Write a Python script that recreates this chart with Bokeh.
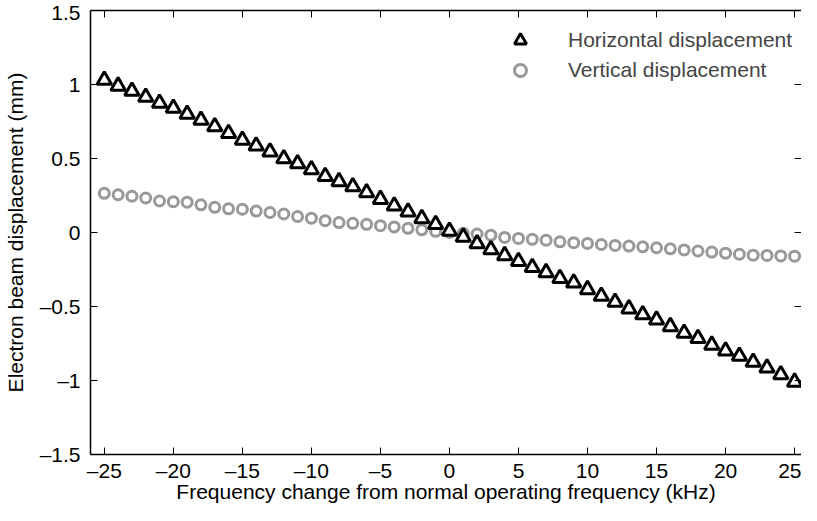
from bokeh.plotting import figure
from bokeh.models import Range1d, LinearAxis, FixedTicker, Legend, LegendItem, Title
from bokeh.embed import file_html
from bokeh.resources import INLINE

# ---- data ----
freq_khz = list(range(-25, 26))
horizontal_mm = [
    1.03, 0.99, 0.955, 0.915, 0.875, 0.84, 0.80, 0.76, 0.715, 0.67,
    0.625, 0.585, 0.545, 0.50, 0.465, 0.425, 0.38, 0.345, 0.31, 0.27,
    0.225, 0.18, 0.14, 0.095, 0.055, 0.01, -0.03, -0.075, -0.115, -0.155,
    -0.195, -0.235, -0.27, -0.31, -0.34, -0.385, -0.43, -0.47, -0.515, -0.555,
    -0.59, -0.635, -0.68, -0.715, -0.76, -0.80, -0.835, -0.875, -0.915, -0.96,
    -1.01,
]
vertical_mm = [
    0.265, 0.255, 0.245, 0.233, 0.213, 0.208, 0.205, 0.187, 0.170, 0.160,
    0.157, 0.145, 0.135, 0.125, 0.108, 0.097, 0.080, 0.067, 0.062, 0.055,
    0.046, 0.038, 0.028, 0.018, 0.008, 0.0, -0.005, -0.010, -0.018, -0.033,
    -0.040, -0.046, -0.052, -0.063, -0.069, -0.074, -0.081, -0.087, -0.092, -0.097,
    -0.103, -0.110, -0.118, -0.125, -0.132, -0.140, -0.147, -0.153, -0.155, -0.158,
    -0.160,
]
x_ticks = [-25, -20, -15, -10, -5, 0, 5, 10, 15, 20, 25]
y_ticks = [-1.5, -1, -0.5, 0, 0.5, 1, 1.5]
series_labels = ["Horizontal displacement", "Vertical displacement"]
x_title = "Frequency change from normal operating frequency (kHz)"
y_title = "Electron beam displacement (mm)"

FONT = "Liberation Sans"
FS = "21px"


def fmt(t):
    return f"{t:g}".replace("-", "\u2013")


p = figure(width=801, height=505, output_backend="svg", toolbar_location=None,
           x_range=Range1d(-26, 25.5), y_range=Range1d(-1.5, 1.5),
           x_axis_location=None, y_axis_location=None,
           min_border_left=86, min_border_right=0, min_border_top=10,
           min_border_bottom=51)
p.outline_line_color = None
p.xgrid.visible = False
p.ygrid.visible = False
p.background_fill_color = "white"
p.border_fill_color = "white"


def style_axis(ax, labels=True):
    ax.axis_line_color = "black"
    ax.axis_line_width = 1.5
    ax.major_tick_line_color = "black"
    ax.major_tick_line_width = 1
    ax.major_tick_in = 7
    ax.major_tick_out = 0
    ax.minor_tick_line_color = None
    ax.major_label_text_font = FONT
    if labels:
        ax.major_label_text_font_size = FS
        ax.major_label_text_color = "black"
    else:
        ax.major_label_text_font_size = "1px"
        ax.major_label_text_color = None
        ax.major_label_standoff = 0
    ax.axis_label_text_font = FONT
    ax.axis_label_text_font_size = FS
    ax.axis_label_text_font_style = "normal"
    ax.axis_label_text_color = "black"


xb = LinearAxis(ticker=FixedTicker(ticks=x_ticks),
                major_label_overrides={t: fmt(t) for t in x_ticks})
style_axis(xb)
xb.major_label_standoff = 4
p.add_layout(xb, "below")

# x-axis title, tucked close under the tick labels
p.add_layout(Title(text=x_title, align="center", vertical_align="top", standoff=-10,
                   text_font=FONT, text_font_size=FS, text_font_style="normal",
                   text_color="black"), "below")

yl = LinearAxis(ticker=FixedTicker(ticks=y_ticks), axis_label=y_title,
                major_label_overrides={t: fmt(t) for t in y_ticks})
style_axis(yl)
yl.major_label_standoff = 10
yl.axis_label_standoff = 10
p.add_layout(yl, "left")

xt = LinearAxis(ticker=FixedTicker(ticks=x_ticks))
style_axis(xt, labels=False)
p.add_layout(xt, "above")

yr = LinearAxis(ticker=FixedTicker(ticks=y_ticks))
style_axis(yr, labels=False)
yr.axis_line_color = None
p.add_layout(yr, "right")

r_v = p.scatter(freq_khz, vertical_mm, marker="circle", size=10,
                line_color="#999999", line_width=3, fill_color=None)
r_h = p.scatter(freq_khz, horizontal_mm, marker="triangle", size=14.5,
                line_color="black", line_width=3, fill_color="white")

legend = Legend(items=[LegendItem(label=series_labels[0], renderers=[r_h]),
                       LegendItem(label=series_labels[1], renderers=[r_v])],
                location=(412, 369), border_line_color=None,
                background_fill_color=None, padding=0, margin=0,
                glyph_width=36, glyph_height=30, label_height=30, spacing=-2,
                label_standoff=30, label_text_font=FONT, label_text_font_size=FS)
p.add_layout(legend)

open("out.html", "w").write(file_html(p, INLINE))
